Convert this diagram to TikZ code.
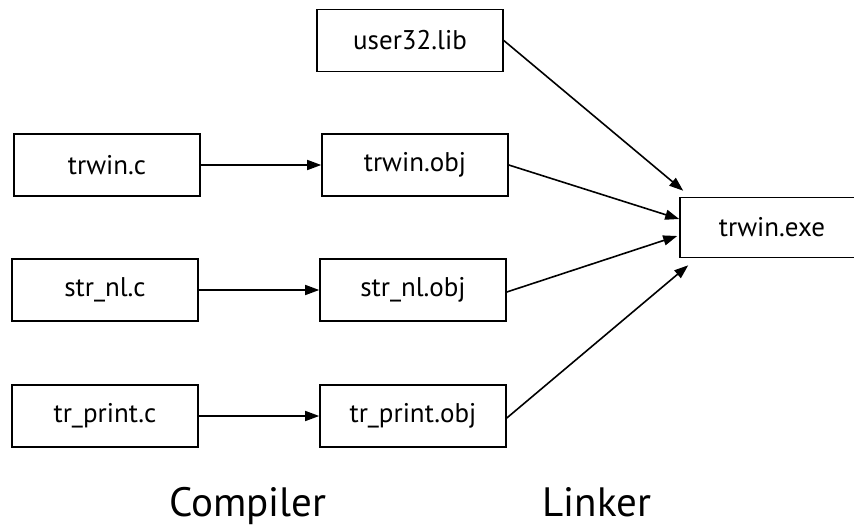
\documentclass[tikz,border=0pt]{standalone}
\usepackage{fontspec}
\setmainfont{PT Sans}
\usetikzlibrary{arrows.meta,calc}
\begin{document}
\begin{tikzpicture}[x=1pt,y=-1pt,
  box/.style={draw,line width=1.6pt,minimum width=186pt,minimum height=62pt,inner sep=0pt,font=\fontsize{27}{32}\selectfont},
  conn/.style={line width=1.6pt,-{Triangle[length=14pt,width=10pt]}},
  lbl/.style={font=\fontsize{41}{46}\selectfont,inner sep=0pt,anchor=base}]
\useasboundingbox (0,0) rectangle (854,528);
\node[box] (user) at (410,40.5) {user32.lib};
\node[box] (trc) at (107,165) {trwin.c};
\node[box] (tro) at (415,165) {trwin.obj};
\node[box] (snc) at (105,290) {str\_nl.c};
\node[box] (sno) at (413,290) {str\_nl.obj};
\node[box] (tpc) at (105,416) {tr\_print.c};
\node[box] (tpo) at (413,416) {tr\_print.obj};
\node[box,minimum width=184pt,minimum height=60pt] (exe) at (772,227.5) {trwin.exe};
\node[lbl] (comp) at (248,516) {Compiler};
\node[lbl] (link) at (597,516) {Linker};
\draw[conn] (trc) -- (tro);
\draw[conn] (snc) -- (sno);
\draw[conn] (tpc) -- (tpo);
\draw[conn] (user.east) -- ($(exe.north west)+(4,-6)$);
\draw[conn] (tro.east) -- ($(exe.west)+(0,-8.5)$);
\draw[conn] ($(sno.east)+(0,2)$) -- ($(exe.west)+(-2,8.5)$);
\draw[conn] ($(tpo.east)+(0,2)$) -- ($(exe.south west)+(9,7)$);
\end{tikzpicture}
\end{document}
